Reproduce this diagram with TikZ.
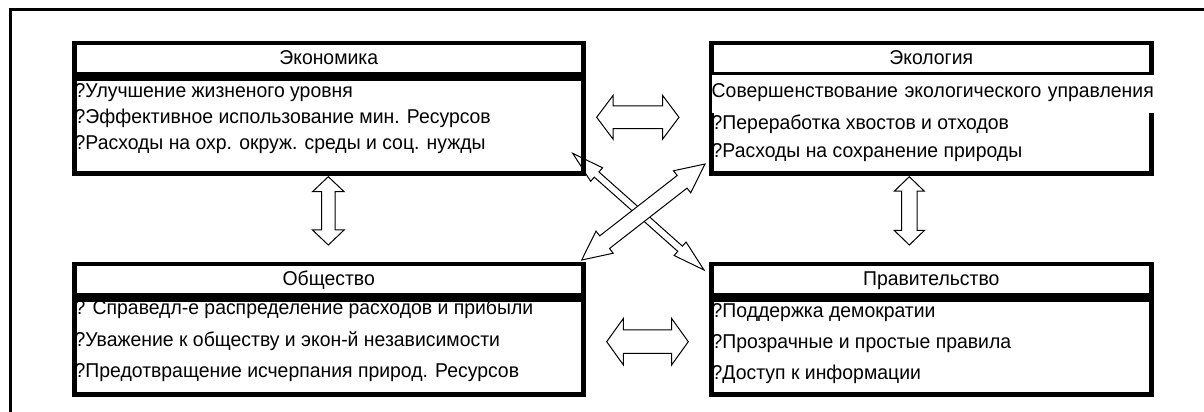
\documentclass[tikz,border=0pt]{standalone}
\usepackage{fontspec}
\setmainfont{Liberation Sans}[FakeStretch=0.97]
\usetikzlibrary{calc}
\tikzset{
  hdr/.style={draw, line width=4.5pt, inner xsep=0pt, inner ysep=0pt,
    text height=21.7pt, text depth=9.8pt, font=\fontsize{20}{24}\selectfont},
  bodybox/.style={draw, line width=4.5pt, inner sep=0pt},
  item/.style={inner sep=0pt, anchor=base west, font=\fontsize{20}{24}\selectfont},
  barrow/.style={draw, fill=white, line width=1pt, line join=miter},
  frame/.style={line width=3pt},
}
\newcommand{\blockarrow}[5]{%
  \path[barrow] let \p1=($(#2)-(#1)$), \n1={atan2(\y1,\x1)}, \n2={veclen(\x1,\y1)} in
   (#1) -- ($(#1)+(\n1:#5)+(\n1+90:#4)$) -- ($(#1)+(\n1:#5)+(\n1+90:#3)$)
   -- ($(#1)+(\n1:\n2-#5)+(\n1+90:#3)$) -- ($(#1)+(\n1:\n2-#5)+(\n1+90:#4)$)
   -- (#2) -- ($(#1)+(\n1:\n2-#5)+(\n1-90:#4)$) -- ($(#1)+(\n1:\n2-#5)+(\n1-90:#3)$)
   -- ($(#1)+(\n1:#5)+(\n1-90:#3)$) -- ($(#1)+(\n1:#5)+(\n1-90:#4)$) -- cycle;}
\begin{document}
\begin{tikzpicture}[x=1pt,y=1pt]
\useasboundingbox (0,0) rectangle (1204,412);
\draw[frame] (10,0) -- (10,402.5) -- (1204,402.5);

% arrow end points
\coordinate (ah1) at (596.7,294.7);
\coordinate (ah2) at (679,294.7);
\coordinate (bh1) at (606.7,70.3);
\coordinate (bh2) at (688.3,70.3);
\coordinate (lv1) at (328.3,235.3);
\coordinate (lv2) at (328.3,167);
\coordinate (rv1) at (909.3,235.3);
\coordinate (rv2) at (909.3,167);
\coordinate (da1) at (572.7,258.7);
\coordinate (da2) at (704,142);
\coordinate (db1) at (705,248);
\coordinate (db2) at (581.7,152);

\blockarrow{ah1}{ah2}{11.3pt}{22pt}{16.5pt}
\blockarrow{bh1}{bh2}{11.7pt}{23.3pt}{16.7pt}
\blockarrow{lv1}{lv2}{6.7pt}{15.8pt}{15pt}
\blockarrow{rv1}{rv2}{7.8pt}{15pt}{14.5pt}
\blockarrow{da1}{da2}{3.5pt}{9pt}{32pt}
\blockarrow{db1}{db2}{8pt}{14pt}{29pt}

% boxes
\node[hdr, minimum width=509pt, anchor=north west] (econh) at (72,371) {Экономика};
\node[bodybox, minimum width=509pt, minimum height=94.5pt, anchor=north west] (econb) at (econh.south west) {};
\node[hdr, minimum width=440pt, anchor=north west] (ecolh) at (709,371) {Экология};
\node[bodybox, minimum width=440pt, minimum height=94.5pt, anchor=north west] (ecolb) at (ecolh.south west) {};
\node[hdr, minimum width=509pt, anchor=north west] (socih) at (72,150) {Общество};
\node[bodybox, minimum width=509pt, minimum height=94.5pt, anchor=north west] (socib) at (socih.south west) {};
\node[hdr, minimum width=440pt, anchor=north west] (govh) at (709,150) {Правительство};
\node[bodybox, minimum width=440pt, minimum height=94.5pt, anchor=north west] (govb) at (govh.south west) {};

% texts
\node[item] (e1) at (74.5,314.3) {?Улучшение жизненого уровня};
\node[item] (e2) at (74.5,288) {?Эффективное использование мин. Ресурсов};
\node[item] (e3) at (74.5,262) {?Расходы на охр. окруж. среды и соц. нужды};
\node[item, fill=white, text width=460pt, align=left, text height=22pt, text depth=15.5pt] (k1) at (711.5,314.7) {Совершенствование экологического управления};
\node[item] (k2) at (711.5,282) {?Переработка хвостов и отходов};
\node[item] (k3) at (711.5,254.7) {?Расходы на сохранение природы};
\node[item] (s1) at (74.5,97) {? Справедл-е распределение расходов и прибыли};
\node[item] (s2) at (74.5,65.3) {?Уважение к обществу и экон-й независимости};
\node[item] (s3) at (74.5,34.7) {?Предотвращение исчерпания природ. Ресурсов};
\node[item] (g1) at (711.5,94.7) {?Поддержка демократии};
\node[item] (g2) at (711.5,63.7) {?Прозрачные и простые правила};
\node[item] (g3) at (711.5,32) {?Доступ к информации};
\end{tikzpicture}
\end{document}
